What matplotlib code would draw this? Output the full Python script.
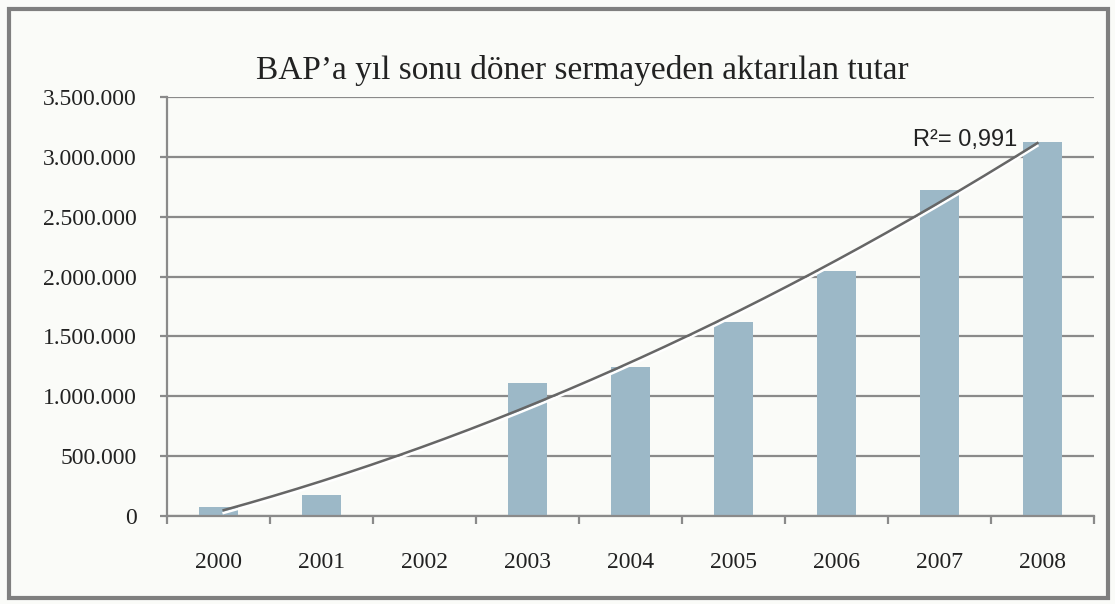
import numpy as np
import matplotlib.pyplot as plt
import matplotlib.patheffects as pe
from matplotlib.patches import Rectangle
from matplotlib.ticker import FuncFormatter, MultipleLocator

years = ['2000', '2001', '2002', '2003', '2004', '2005', '2006', '2007', '2008']
tutar = [75000, 175000, 0, 1108000, 1242000, 1617000, 2050000, 2725000, 3125000]
r2_text = 'R²= 0,991'
title = 'BAP\u2019a yıl sonu döner sermayeden aktarılan tutar'

bg = '#fafbf8'
bar_color = '#9cb8c7'
grid_color = '#8a8a8a'

fig = plt.figure(figsize=(11.15, 6.04), dpi=100, facecolor=bg)
ax = fig.add_axes([0.1498, 0.1457, 0.8314, 0.6937])
ax.set_facecolor(bg)

x = np.arange(len(years))
ax.bar(x, tutar, width=0.38, color=bar_color, zorder=2)

# ikinci dereceden trend (2002 boş hücre, fitte yok)
mask = np.array(tutar) > 0
coef = np.polyfit(x[mask], np.array(tutar)[mask], 2)
xs = np.linspace(0.05, 7.95, 200)
ax.plot(xs, np.polyval(coef, xs), color='#666666', lw=1.8, zorder=3,
        path_effects=[pe.SimpleLineShadow(offset=(0, -2), shadow_color='white', alpha=1),
                      pe.Normal()])

ax.set_xlim(-0.5, 8.5)
ax.set_ylim(0, 3500000)
ax.yaxis.set_major_locator(MultipleLocator(500000))
ax.yaxis.set_major_formatter(FuncFormatter(lambda v, p: f'{int(v):,}'.replace(',', '.')))
ax.grid(axis='y', color=grid_color, lw=1.6, zorder=1)
ax.set_axisbelow(True)

ax.set_xticks(x)
ax.set_xticklabels(years)
ax.set_xticks(np.arange(-0.5, 9.0, 1.0), minor=True)
ax.tick_params(axis='x', which='major', length=0, pad=26)
ax.tick_params(axis='x', which='minor', length=6, width=1.6, color=grid_color, direction='out')
ax.tick_params(axis='y', length=5, width=1.6, color=grid_color, pad=17)
for lab in ax.get_xticklabels() + ax.get_yticklabels():
    lab.set_fontfamily('Liberation Serif')
    lab.set_fontsize(17)
    lab.set_color('#222222')

for s in ['top', 'right']:
    ax.spines[s].set_visible(False)
for s in ['left', 'bottom']:
    ax.spines[s].set_color(grid_color)
    ax.spines[s].set_linewidth(1.6)

ax.text(7.75, 3090000, r2_text, ha='right', va='baseline', fontsize=17,
        family='Liberation Sans', color='#222222')

fig.text(0.522, 0.883, title, ha='center', va='center', fontsize=24,
         family='Liberation Serif', color='#222222')

fig.patches.append(Rectangle((0.008, 0.01), 0.986, 0.975, transform=fig.transFigure,
                             fill=False, edgecolor='#7f7f7f', lw=3))

fig.savefig('out.png', dpi=100, facecolor=bg)
